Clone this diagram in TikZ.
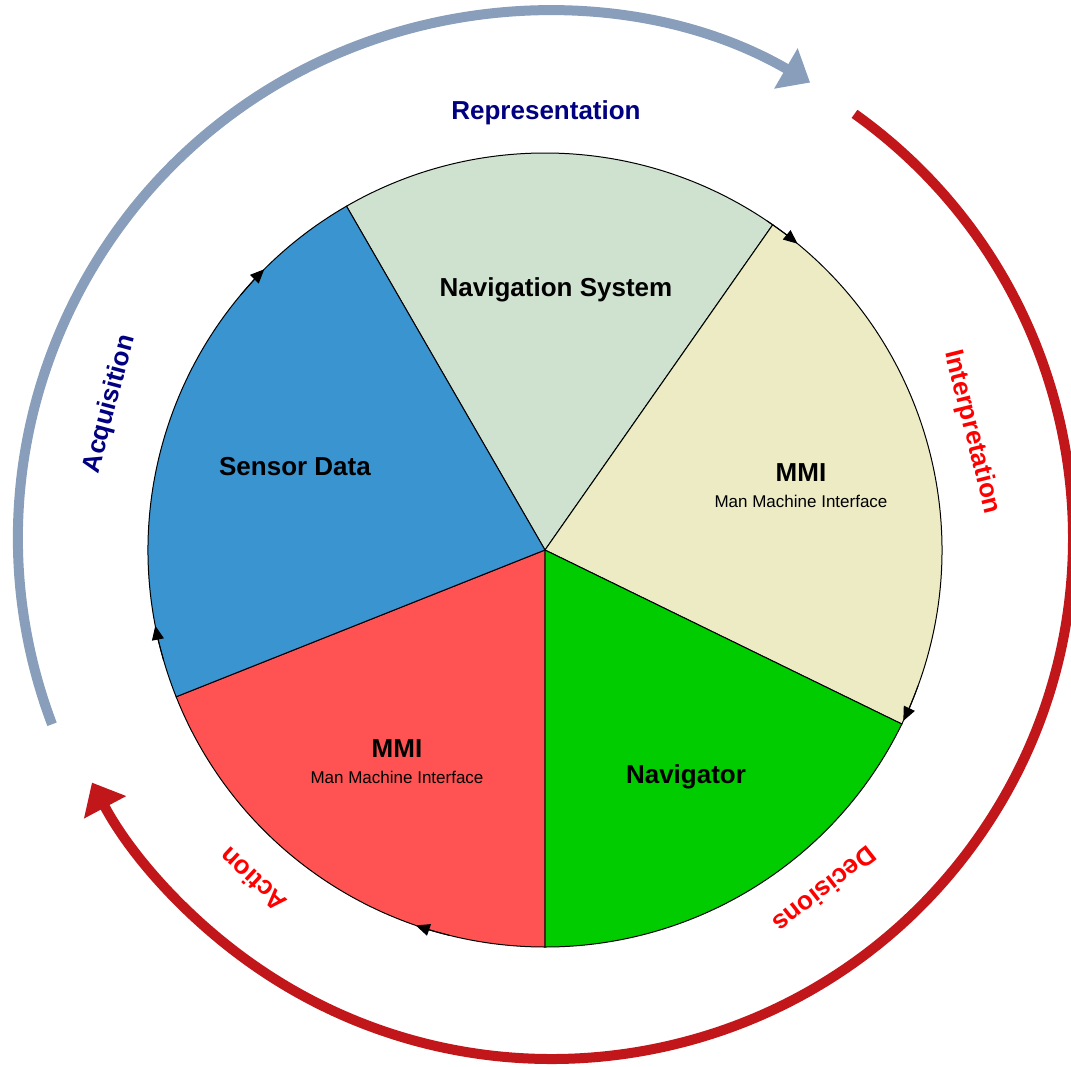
\documentclass[tikz,border=0pt]{standalone}
\usepackage{fontspec}
\setmainfont{Liberation Sans}
\usepackage{tikz}
\usetikzlibrary{arrows.meta, calc}
\usepackage{xcolor}
\definecolor{navsys}{RGB}{207,226,207}
\definecolor{mmiyellow}{RGB}{236,235,196}
\definecolor{navigatorgreen}{RGB}{0,204,0}
\definecolor{mmired}{RGB}{255,82,82}
\definecolor{sensorblue}{RGB}{58,148,208}
\definecolor{cycleblue}{RGB}{136,158,186}
\definecolor{cyclered}{RGB}{193,22,26}
\definecolor{labelnavy}{RGB}{0,0,128}
\definecolor{labelred}{RGB}{255,0,0}
\newcommand{\mmisub}[1]{{\fontsize{8.5}{10}\selectfont\mdseries #1}}

\begin{document}
\begin{tikzpicture}[x=0.5pt, y=0.5pt,
    sector/.style={draw=black, line width=0.5pt},
    title/.style={font=\fontsize{13}{15}\selectfont\bfseries, align=center, inner sep=0pt},
    phase_navy/.style={font=\fontsize{13}{15}\selectfont\bfseries, text=labelnavy, inner sep=0pt},
    phase_red/.style={font=\fontsize{13}{15}\selectfont\bfseries, text=labelred, inner sep=0pt},
    cycle_blue/.style={draw=cycleblue, line width=5pt, -{Triangle[length=14pt, width=22.5pt]}},
    cycle_red/.style={draw=cyclered, line width=5pt, -{Triangle[length=14pt, width=23pt]}},
    tick/.style={line width=0.5pt, -{Triangle[length=7pt, width=6pt]}}
]

\useasboundingbox (-545,-516) rectangle (526,550);

\coordinate (hub) at (0,0);
\coordinate (bluec) at (0,12);
\coordinate (redc) at (7,12);

\filldraw[sector, fill=navsys] (hub) -- (120:397) arc (120:55:397) -- cycle;
\filldraw[sector, fill=mmiyellow] (hub) -- (55:397) arc (55:-26:397) -- cycle;
\filldraw[sector, fill=navigatorgreen] (hub) -- (-26:397) arc (-26:-90:397) -- cycle;
\filldraw[sector, fill=mmired] (hub) -- (-90:397) arc (-90:-158.3:397) -- cycle;
\filldraw[sector, fill=sensorblue] (hub) -- (201.7:397) arc (201.7:120:397) -- cycle;

\draw[tick] (hub) ++(140:397) arc (140:135:397);
\draw[tick] (hub) ++(196:397) arc (196:191:397);
\draw[tick] (hub) ++(56:397) arc (56:50.5:397);
\draw[tick] (hub) ++(-20:397) arc (-20:-25.5:397);
\draw[tick] (hub) ++(-104:397) arc (-104:-109:397);

\node[title] (navsystem) at (11,260) {Navigation System};
\node[title] (mmitop) at (256,64) {MMI\\[-2pt]\mmisub{Man Machine Interface}};
\node[title] (sensor) at (-250,83) {Sensor Data};
\node[title] (navigator) at (141,-227) {Navigator};
\node[title] (mmibottom) at (-148,-212) {MMI\\[-2pt]\mmisub{Man Machine Interface}};

\draw[cycle_blue] ([shift={(200.7:527)}]bluec) arc (200.7:59.8:527);
\draw[cycle_red] ([shift={(54.5:521)}]redc) arc (54.5:-152:521);

\node[phase_navy] (representation) at (1,437) {Representation};
\node[phase_navy, rotate=75] (acquisition) at (-435,146) {Acquisition};
\node[phase_red, rotate=-76] (interpretation) at (427,118) {Interpretation};
\node[phase_red, rotate=-142] (decisions) at (280,-340) {Decisions};
\node[phase_red, rotate=137] (action) at (-292,-330) {Action};

\end{tikzpicture}
\end{document}
